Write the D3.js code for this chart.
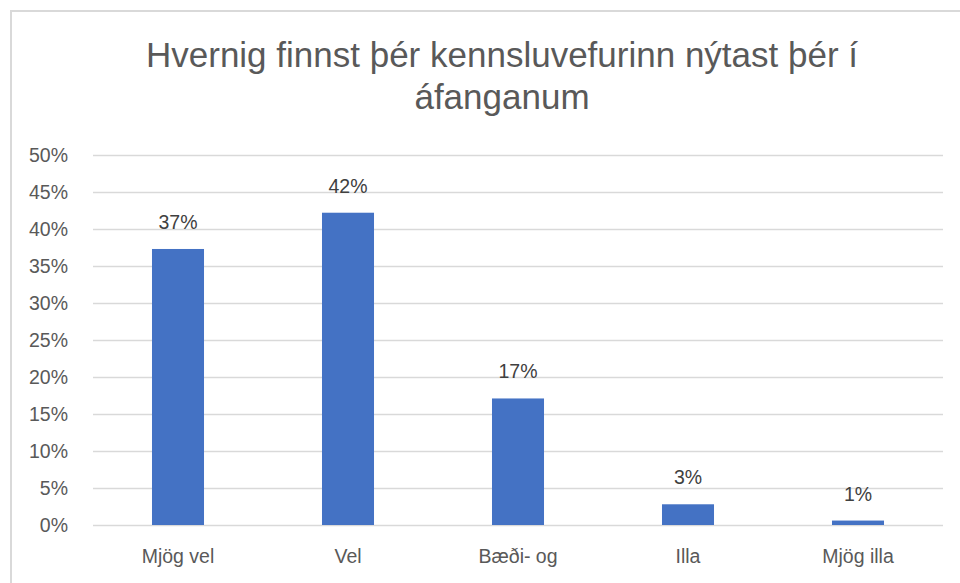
<!DOCTYPE html>
<html>
<head>
<meta charset="utf-8">
<script src="https://cdn.jsdelivr.net/npm/d3@7"></script>
<style>
  body { margin: 0; background: #fff; }
  svg { display: block; }
</style>
</head>
<body>
<svg id="chart" width="960" height="583"></svg>
<script>
// data
const categories = ["Mjög vel", "Vel", "Bæði- og", "Illa", "Mjög illa"];
const shares = [0.373, 0.422, 0.171, 0.028, 0.006];
const labels = ["37%", "42%", "17%", "3%", "1%"];
const yTicks = [0, 0.05, 0.10, 0.15, 0.20, 0.25, 0.30, 0.35, 0.40, 0.45, 0.50];
const titleLines = ["Hvernig finnst þér kennsluvefurinn nýtast þér í", "áfanganum"];

const W = 960, H = 583;
const font = "'Liberation Sans', Arial, sans-serif";
const textCol = "#595959";
const gridCol = "#d9d9d9";

const svg = d3.select("#chart");

// outer chart frame (right/bottom edges run off the page)
svg.append("rect")
  .attr("x", 11).attr("y", 11)
  .attr("width", W + 20).attr("height", H + 20)
  .attr("fill", "#fff")
  .attr("stroke", gridCol)
  .attr("stroke-width", 2);

const margin = {left: 93, right: 17, top: 155, bottom: 58};

const x = d3.scaleBand()
  .domain(categories)
  .range([margin.left, W - margin.right])
  .paddingInner(0.694)
  .paddingOuter(0.347);

const y = d3.scaleLinear()
  .domain([0, 0.5])
  .range([H - margin.bottom, margin.top]);

// title, two lines
const title = svg.append("text")
  .attr("text-anchor", "middle")
  .attr("font-family", font)
  .attr("font-size", 35)
  .attr("fill", textCol);
title.selectAll("tspan")
  .data(titleLines)
  .enter().append("tspan")
    .attr("x", 502)
    .attr("y", (d, i) => 67 + i * 42)
    .text(d => d);

// gridlines + y labels
const yAxis = d3.axisLeft(y)
  .tickValues(yTicks)
  .tickFormat(d3.format(".0%"))
  .tickSize(-(W - margin.right - margin.left))
  .tickPadding(25);

const gy = svg.append("g")
  .attr("transform", `translate(${margin.left},0)`)
  .call(yAxis);
gy.select(".domain").remove();
gy.selectAll(".tick line").attr("stroke", gridCol).attr("stroke-width", 1.3);
gy.selectAll(".tick text")
  .attr("font-family", font)
  .attr("font-size", 19.5)
  .attr("fill", textCol);

// bars
svg.append("g").selectAll("rect")
  .data(categories)
  .enter().append("rect")
    .attr("x", d => x(d))
    .attr("y", (d, i) => y(shares[i]))
    .attr("width", x.bandwidth())
    .attr("height", (d, i) => y(0) - y(shares[i]))
    .attr("fill", "#4472c4");

// value labels
svg.append("g").selectAll("text")
  .data(categories)
  .enter().append("text")
    .attr("x", d => x(d) + x.bandwidth() / 2)
    .attr("y", (d, i) => y(shares[i]) - 20)
    .attr("text-anchor", "middle")
    .attr("font-family", font)
    .attr("font-size", 19.5)
    .attr("fill", "#404040")
    .text((d, i) => labels[i]);

// category axis labels
const xAxis = d3.axisBottom(x).tickSize(0).tickPadding(0);
const gx = svg.append("g")
  .attr("transform", `translate(0,${H - margin.bottom})`)
  .call(xAxis);
gx.select(".domain").remove();
gx.selectAll(".tick text")
  .attr("dy", null)
  .attr("y", 38)
  .attr("font-family", font)
  .attr("font-size", 19.5)
  .attr("fill", textCol);
</script>
</body>
</html>
